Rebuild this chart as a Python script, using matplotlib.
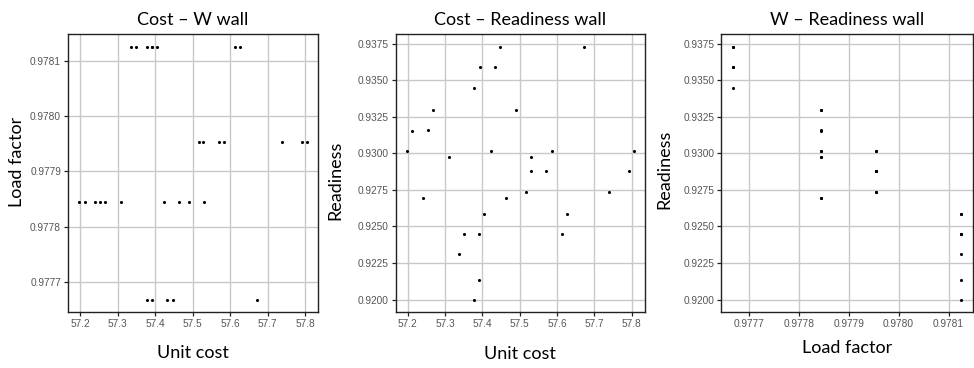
import matplotlib.pyplot as plt
import numpy as np
from matplotlib.ticker import FormatStrFormatter

plt.rcParams["font.family"] = "Lato"

# Pareto points: unit cost, load factor, readiness
unit_cost = [
    57.378, 57.393, 57.433, 57.448, 57.672,
    57.198, 57.212, 57.241, 57.254, 57.267, 57.310, 57.423, 57.463, 57.490, 57.531,
    57.516, 57.529, 57.571, 57.585, 57.738, 57.793, 57.805,
    57.337, 57.350, 57.378, 57.392, 57.392, 57.405, 57.612, 57.626,
]
load_factor = (
    [0.977668] * 5
    + [0.977844] * 10
    + [0.977954] * 7
    + [0.978125] * 8
)
readiness = [
    0.93447, 0.93587, 0.93588, 0.93727, 0.93727,
    0.93014, 0.93152, 0.92695, 0.93156, 0.93294, 0.92973, 0.93014, 0.92695, 0.93294, 0.92973,
    0.92738, 0.92876, 0.92877, 0.93014, 0.92738, 0.92877, 0.93014,
    0.92313, 0.92447, 0.92000, 0.92133, 0.92447, 0.92585, 0.92447, 0.92585,
]

cost_ticks = [57.2, 57.3, 57.4, 57.5, 57.6, 57.7, 57.8]
lf_ticks = [0.9777, 0.9778, 0.9779, 0.9780, 0.9781]
ready_ticks = [0.9200, 0.9225, 0.9250, 0.9275, 0.9300, 0.9325, 0.9350, 0.9375]

W, H = 974, 368
fig = plt.figure(figsize=(W / 100, H / 100), dpi=100)


def px_axes(left, top, right, bottom):
    return fig.add_axes([left / W, 1 - bottom / H, (right - left) / W, (bottom - top) / H])


panels = [
    (px_axes(68, 34.3, 318.3, 312.3), unit_cost, load_factor,
     "Cost \u2013 W wall", "Unit cost", "Load factor",
     cost_ticks, lf_ticks, "%.1f", "%.4f", (-0.172, 0.54), -0.118),
    (px_axes(395.7, 34.3, 645, 312.3), unit_cost, readiness,
     "Cost \u2013 Readiness wall", "Unit cost", "Readiness",
     cost_ticks, ready_ticks, "%.1f", "%.4f", (-0.211, 0.476), -0.122),
    (px_axes(721.3, 34.3, 972.5, 312.3), load_factor, readiness,
     "W \u2013 Readiness wall", "Load factor", "Readiness",
     lf_ticks, ready_ticks, "%.4f", "%.4f", (-0.193, 0.515), -0.098),
]

for ax, xs, ys, title, xlab, ylab, xt, yt, xf, yf, ylab_pos, xlab_y in panels:
    ax.scatter(xs, ys, s=5, color="black", linewidths=0, zorder=3)
    ax.margins(0.05)
    ax.set_xticks(xt)
    ax.set_yticks(yt)
    ax.xaxis.set_major_formatter(FormatStrFormatter(xf))
    ax.yaxis.set_major_formatter(FormatStrFormatter(yf))
    ax.grid(True, color="#c8c8c8", lw=1.0, zorder=0)
    ax.set_axisbelow(True)
    for sp in ax.spines.values():
        sp.set_color("#222222")
        sp.set_linewidth(1.0)
    ax.tick_params(labelsize=7.3, labelcolor="#555555", length=3, width=0.9,
                   color="#222222", pad=2)
    for lbl in ax.get_xticklabels() + ax.get_yticklabels():
        lbl.set_family("Liberation Sans")
    ax.set_title(title, fontsize=13, pad=7)
    ax.set_xlabel(xlab, fontsize=13)
    ax.set_ylabel(ylab, fontsize=13)
    ax.yaxis.set_label_coords(*ylab_pos)
    ax.xaxis.set_label_coords(0.5, xlab_y)

fig.savefig("out.png", dpi=100)
